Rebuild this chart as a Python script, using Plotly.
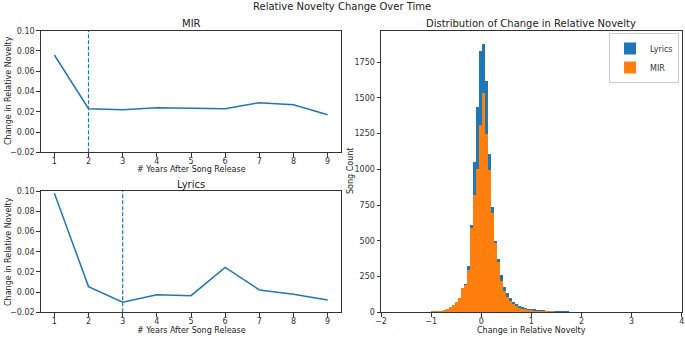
import plotly.graph_objects as go

# ---------------- data ----------------
years = [1, 2, 3, 4, 5, 6, 7, 8, 9]
mir_change = [0.076, 0.023, 0.022, 0.024, 0.0235, 0.023, 0.029, 0.027, 0.017]
lyrics_change = [0.098, 0.0055, -0.010, -0.0025, -0.0035, 0.0246, 0.0022, -0.0021, -0.0077]
mir_marker_year = 2
lyrics_marker_year = 3

bin_width = 0.06
bin_centers = [round(-1.10 + 0.06 * k, 2) for k in range(66)]
lyrics_counts = [2, 3, 4, 6, 9, 12, 16, 22, 30, 42, 62, 100, 175, 200, 325, 614, 1055, 1439,
                 1829, 1876, 1620, 1113, 736, 504, 376, 260, 179, 135, 104, 77, 60, 46, 40, 32,
                 28, 23, 22, 20, 18, 15, 13, 12, 10, 8, 7, 6, 6, 5, 4, 4, 3, 3, 3, 2, 2, 2, 1,
                 2, 1, 1, 0, 1, 0, 1, 0, 1]
mir_counts = [2, 3, 5, 7, 10, 14, 20, 28, 38, 50, 72, 105, 170, 190, 300, 590, 820, 1006,
              1311, 1538, 1250, 1000, 700, 490, 355, 220, 150, 110, 80, 60, 45, 35, 28, 22,
              18, 15, 13, 12, 10, 9, 8, 6, 5, 4, 4, 3, 3, 2, 2, 2, 2, 1, 1, 1, 1, 1, 1,
              1, 1, 1, 0, 0, 0, 0, 0, 0]

line_ticks = [-0.02, 0.00, 0.02, 0.04, 0.06, 0.08, 0.10]
hist_yticks = [0, 250, 500, 750, 1000, 1250, 1500, 1750]
hist_xticks = [-2, -1, 0, 1, 2, 3, 4]

BLUE = "#1f77b4"
ORANGE = "#ff7f0e"
FONT = "DejaVu Sans"
W, H = 685, 338

fig = go.Figure()

fig.add_trace(go.Scatter(x=years, y=mir_change, mode="lines",
                         line=dict(color=BLUE, width=1.5), xaxis="x", yaxis="y",
                         showlegend=False))
fig.add_trace(go.Scatter(x=years, y=lyrics_change, mode="lines",
                         line=dict(color=BLUE, width=1.5), xaxis="x2", yaxis="y2",
                         showlegend=False))
fig.add_trace(go.Bar(x=bin_centers, y=lyrics_counts, width=bin_width, name="Lyrics",
                     marker=dict(color=BLUE, line=dict(width=0)), xaxis="x3", yaxis="y3"))
fig.add_trace(go.Bar(x=bin_centers, y=mir_counts, width=bin_width, name="MIR",
                     marker=dict(color=ORANGE, line=dict(width=0)), xaxis="x3", yaxis="y3"))

def px_x(p):
    return p / W

def px_y(p):
    return (H - p) / H

axis_common = dict(showline=True, linecolor="#333", linewidth=1, mirror=True,
                   ticks="outside", ticklen=3.5, tickwidth=1, tickcolor="#333",
                   showgrid=False, zeroline=False, automargin=False,
                   tickfont=dict(family=FONT, size=8, color="#333"))
xaxis_common = dict(axis_common, ticklabelstandoff=-2)

dx_left = [px_x(40.7), px_x(341.3)]
dx_right = [px_x(381), px_x(681.7)]
dy_top = [px_y(152.3), px_y(30.7)]
dy_bot = [px_y(312.3), px_y(191.3)]

fig.update_layout(
    width=W, height=H,
    margin=dict(l=0, r=0, t=0, b=0, autoexpand=False),
    paper_bgcolor="white", plot_bgcolor="white",
    font=dict(family=FONT, size=8, color="#333"),
    barmode="overlay", bargap=0,
    xaxis=dict(domain=dx_left, anchor="y", range=[0.6, 9.4], tickvals=years, **xaxis_common),
    yaxis=dict(domain=dy_top, anchor="x", range=[-0.02, 0.10], tickvals=line_ticks,
               tickformat=".2f", **axis_common),
    xaxis2=dict(domain=dx_left, anchor="y2", range=[0.6, 9.4], tickvals=years, **xaxis_common),
    yaxis2=dict(domain=dy_bot, anchor="x2", range=[-0.02, 0.10], tickvals=line_ticks,
                tickformat=".2f", **axis_common),
    xaxis3=dict(domain=dx_right, anchor="y3", range=[-2, 4], tickvals=hist_xticks, **xaxis_common),
    yaxis3=dict(domain=dy_bot[:1] + dy_top[1:], anchor="x3", range=[0, 1970],
                tickvals=hist_yticks, **axis_common),
    legend=dict(x=px_x(679), y=px_y(33), xanchor="right", yanchor="top",
                bgcolor="rgba(255,255,255,0.8)", bordercolor="#ccc", borderwidth=1,
                font=dict(family=FONT, size=8, color="#333"),
                itemwidth=30, tracegroupgap=0),
    shapes=[
        dict(type="line", xref="x", yref="y domain", x0=mir_marker_year, x1=mir_marker_year,
             y0=0, y1=1, line=dict(color=BLUE, width=1.2, dash="4px,2px")),
        dict(type="line", xref="x2", yref="y2 domain", x0=lyrics_marker_year,
             x1=lyrics_marker_year, y0=0, y1=1, line=dict(color=BLUE, width=1.2, dash="4px,2px")),
    ],
)

def ann(text, x, y, size=8, angle=0):
    fig.add_annotation(text=text, x=px_x(x), y=px_y(y), xref="paper", yref="paper",
                       showarrow=False, textangle=angle, xanchor="center", yanchor="middle",
                       font=dict(family=FONT, size=size, color="#222"))

ann("Relative Novelty Change Over Time", 342, 7, size=10)
ann("MIR", 191, 23, size=10)
ann("Lyrics", 191, 184, size=10)
ann("Distribution of Change in Relative Novelty", 531, 23, size=10)
ann("# Years After Song Release", 191, 169)
ann("# Years After Song Release", 191, 330)
ann("Change in Relative Novelty", 531, 330)
ann("Change in Relative Novelty", 8, 91, angle=-90)
ann("Change in Relative Novelty", 8, 252, angle=-90)
ann("Song Count", 350, 171, angle=-90)

fig.write_html("out.html", config={"displayModeBar": False},
               post_script="document.body.style.margin='0';document.body.style.overflow='hidden';")
